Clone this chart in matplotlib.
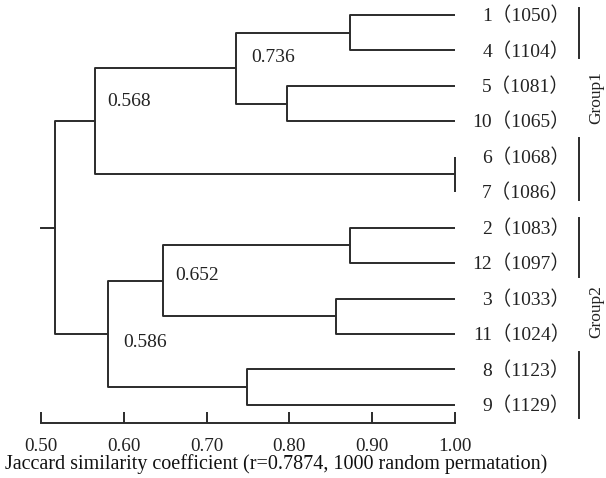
import matplotlib
matplotlib.use("Agg")
import matplotlib.pyplot as plt
from matplotlib.transforms import blended_transform_factory

# ---- data ----
leaf_names = ['1', '4', '5', '10', '6', '7', '2', '12', '3', '11', '8', '9']
leaf_ids = [1050, 1104, 1081, 1065, 1068, 1086, 1083, 1097, 1033, 1024, 1123, 1129]
# merges: (left, right, similarity); ints >= 100 refer to earlier clusters (100 + index)
merge_left = ['1', '5', 100, '6', 102, '2', '3', 105, '8', 107, 104]
merge_right = ['4', '10', 101, '7', 103, '12', '11', 106, '9', 108, 109]
merge_sim = [0.873, 0.797, 0.736, 1.000, 0.565, 0.873, 0.856, 0.647, 0.749, 0.581, 0.517]
node_label_idx = [2, 4, 7, 9]
node_label_text = ['0.736', '0.568', '0.652', '0.586']
xticks = [0.50, 0.60, 0.70, 0.80, 0.90, 1.00]
group_names = ['Group1', 'Group2']
group_bars = [[(-0.2, 1.21), (3.47, 5.22)], [(5.73, 7.39), (9.5, 11.37)]]
group_centers = [2.34, 8.38]
xlabel = 'Jaccard similarity coefficient (r=0.7874, 1000 random permatation)'

# label placement (offsets from node, in x-units / leaf units)
node_label_dx = [0.018, 0.015, 0.015, 0.018]
node_label_dy = [-0.31, -0.55, -0.16, 0.24]

plt.rcParams['font.family'] = ['Liberation Serif', 'Noto Sans CJK SC', 'DejaVu Sans']
LC = '#2b2b2b'
TC = '#222222'
LW = 1.4

fig = plt.figure(figsize=(6.06, 4.78), dpi=100)
W, H = 606, 478
ax = fig.add_axes([41 / W, 1 - 423 / H, (455 - 41) / W, (423 - 5) / H])
ax.set_xlim(0.5, 1.0)
ax.set_ylim(11.51, -0.28)

pos = {n: (1.0, i) for i, n in enumerate(leaf_names)}
clusters = []
for k, (a, b, s) in enumerate(zip(merge_left, merge_right, merge_sim)):
    pa = clusters[a - 100] if isinstance(a, int) else pos[a]
    pb = clusters[b - 100] if isinstance(b, int) else pos[b]
    ax.plot([pa[0], s, s, pb[0]], [pa[1], pa[1], pb[1], pb[1]],
            color=LC, lw=LW, solid_capstyle='butt', clip_on=False)
    clusters.append((s, (pa[1] + pb[1]) / 2))

for k, t, dx, dy in zip(node_label_idx, node_label_text, node_label_dx, node_label_dy):
    s, ym = clusters[k]
    ax.text(s + dx, ym + dy, t, fontsize=14, ha='left', va='center', color=TC)

# root stub
root = clusters[-1]
ax.plot([0.5, root[0]], [root[1], root[1]], color=LC, lw=LW, clip_on=False)

tr = blended_transform_factory(fig.transFigure, ax.transData)
for i, (n, v) in enumerate(zip(leaf_names, leaf_ids)):
    ax.text(570 / W, i + 0.03, f'{n}（{v}）', transform=tr, ha='right', va='center',
            fontsize=14, color=TC)

for name, bars, yc in zip(group_names, group_bars, group_centers):
    for y0, y1 in bars:
        ax.plot([579 / W, 579 / W], [y0, y1], transform=tr, color=LC, lw=LW, clip_on=False)
    ax.text(596 / W, yc, name, transform=tr, rotation=90, ha='center', va='center',
            fontsize=12.5, color=TC)

for s in ['top', 'right', 'left']:
    ax.spines[s].set_visible(False)
ax.spines['bottom'].set_color(LC)
ax.spines['bottom'].set_linewidth(LW)
ax.set_yticks([])
ax.set_xticks(xticks)
ax.set_xticklabels([f'{t:.2f}' for t in xticks], fontsize=13.8, color=TC)
ax.tick_params(axis='x', direction='in', length=8, width=LW, color=LC, pad=10.5)
ax.set_xlabel(xlabel, fontsize=14.5, color='#111')
ax.xaxis.label.set_horizontalalignment('left')
ax.xaxis.label.set_verticalalignment('center')
ax.xaxis.set_label_coords(5 / W, 13.5 / H, transform=fig.transFigure)

fig.savefig('out.png', dpi=100, facecolor='white')
